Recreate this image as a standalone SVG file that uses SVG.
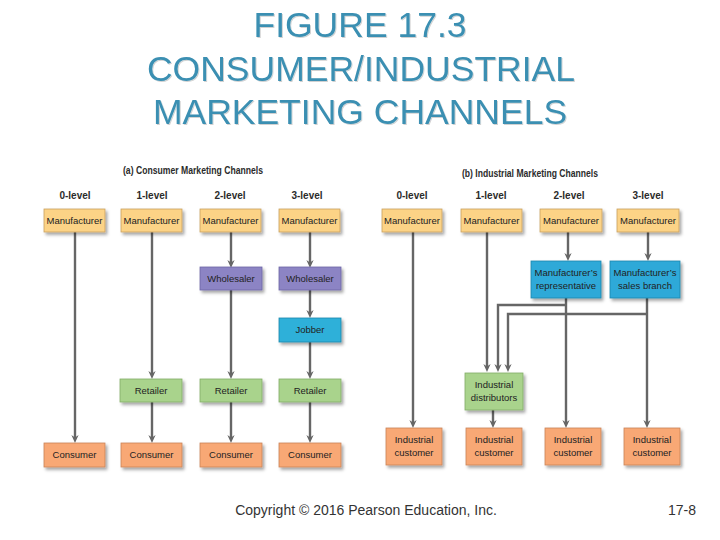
<svg xmlns="http://www.w3.org/2000/svg" width="720" height="540" viewBox="0 0 720 540">
<defs>
<filter id="sh" x="-20%" y="-20%" width="150%" height="160%">
<feDropShadow dx="2" dy="2.5" stdDeviation="1.6" flood-color="#000" flood-opacity="0.35"/>
</filter>
<filter id="tsh" x="-5%" y="-10%" width="110%" height="130%">
<feDropShadow dx="1" dy="1" stdDeviation="0.4" flood-color="#000" flood-opacity="0.18"/>
</filter>
<marker id="ah" viewBox="0 0 10 10" refX="5" refY="5" markerWidth="9" markerHeight="8" markerUnits="userSpaceOnUse" orient="auto">
<path d="M0,0.5 L10,5 L0,9.5 L3,5 z" fill="#666"/>
</marker>
</defs>
<style>
.b{stroke-width:0.8;filter:url(#sh)}
.mf{fill:#fcd386;stroke:#c9a060}
.ws{fill:#8c84c4;stroke:#6d65a5}
.jb{fill:#2fb0d9;stroke:#1e88ad}
.rt{fill:#a9d38c;stroke:#82ad66}
.cs{fill:#f8a874;stroke:#c98358}
.bl{fill:#2fa9d8;stroke:#1e85ad}
.t{font-family:"Liberation Sans",Arial,sans-serif;font-size:9.5px;fill:#222;text-anchor:middle}
.h{font-family:"Liberation Sans",Arial,sans-serif;font-size:10px;font-weight:bold;fill:#2b2b2b;text-anchor:middle}
.ttl{font-family:"Liberation Sans",Arial,sans-serif;font-size:35.5px;fill:#3a8fb2;text-anchor:middle;filter:url(#tsh)}
.ft{font-family:"Liberation Sans",Arial,sans-serif;font-size:14px;fill:#333}
#connectors path,#connectors line{stroke:#666;stroke-width:2.4;fill:none}
</style>
<rect width="720" height="540" fill="#fff"/>
<g id="title">
<text class="ttl" x="360" y="37">FIGURE 17.3</text>
<text class="ttl" x="361" y="81">CONSUMER/INDUSTRIAL</text>
<text class="ttl" x="360" y="124">MARKETING CHANNELS</text>
</g>
<g id="headings">
<text class="h" x="193" y="174" textLength="140" lengthAdjust="spacingAndGlyphs">(a) Consumer Marketing Channels</text>
<text class="h" x="530" y="177" textLength="136" lengthAdjust="spacingAndGlyphs">(b) Industrial Marketing Channels</text>
<text class="h" x="75" y="199">0-level</text>
<text class="h" x="152" y="199">1-level</text>
<text class="h" x="230" y="199">2-level</text>
<text class="h" x="307" y="199">3-level</text>
<text class="h" x="412" y="199">0-level</text>
<text class="h" x="491" y="199">1-level</text>
<text class="h" x="569" y="199">2-level</text>
<text class="h" x="648" y="199">3-level</text>
</g>
<g id="connectors">
<line x1="75" y1="232" x2="75" y2="439" marker-end="url(#ah)"/>
<line x1="152" y1="232" x2="152" y2="375" marker-end="url(#ah)"/>
<line x1="152" y1="402" x2="152" y2="439" marker-end="url(#ah)"/>
<line x1="231" y1="232" x2="231" y2="264" marker-end="url(#ah)"/>
<line x1="231" y1="290" x2="231" y2="375" marker-end="url(#ah)"/>
<line x1="231" y1="402" x2="231" y2="439" marker-end="url(#ah)"/>
<line x1="310" y1="232" x2="310" y2="264" marker-end="url(#ah)"/>
<line x1="310" y1="290" x2="310" y2="314" marker-end="url(#ah)"/>
<line x1="310" y1="342" x2="310" y2="375" marker-end="url(#ah)"/>
<line x1="310" y1="402" x2="310" y2="439" marker-end="url(#ah)"/>
<line x1="413" y1="232" x2="413" y2="424" marker-end="url(#ah)"/>
<line x1="487" y1="232" x2="487" y2="368" marker-end="url(#ah)"/>
<line x1="568" y1="232" x2="568" y2="257" marker-end="url(#ah)"/>
<line x1="648" y1="232" x2="648" y2="257" marker-end="url(#ah)"/>
<line x1="566" y1="298" x2="566" y2="424" marker-end="url(#ah)"/>
<line x1="647" y1="298" x2="647" y2="424" marker-end="url(#ah)"/>
<path d="M566,305 H498 V368" marker-end="url(#ah)"/>
<path d="M647,314 H508 V368" marker-end="url(#ah)"/>
<line x1="493" y1="410" x2="493" y2="424" marker-end="url(#ah)"/>
</g>
<g id="c-manufacturer-0"><rect class="b mf" x="44" y="209" width="61" height="23"/><text class="t" x="74.5" y="224">Manufacturer</text></g>
<g id="c-manufacturer-1"><rect class="b mf" x="121" y="209" width="61" height="23"/><text class="t" x="151.5" y="224">Manufacturer</text></g>
<g id="c-manufacturer-2"><rect class="b mf" x="200" y="209" width="61" height="23"/><text class="t" x="230.5" y="224">Manufacturer</text></g>
<g id="c-manufacturer-3"><rect class="b mf" x="279" y="209" width="61" height="23"/><text class="t" x="309.5" y="224">Manufacturer</text></g>
<g id="c-wholesaler-2"><rect class="b ws" x="200" y="267" width="62" height="23"/><text class="t" x="231" y="282">Wholesaler</text></g>
<g id="c-wholesaler-3"><rect class="b ws" x="279" y="267" width="62" height="23"/><text class="t" x="310" y="282">Wholesaler</text></g>
<g id="c-jobber-3"><rect class="b jb" x="279" y="318" width="62" height="24"/><text class="t" x="310" y="333">Jobber</text></g>
<g id="c-retailer-1"><rect class="b rt" x="120" y="379" width="62" height="23"/><text class="t" x="151" y="394">Retailer</text></g>
<g id="c-retailer-2"><rect class="b rt" x="200" y="379" width="62" height="23"/><text class="t" x="231" y="394">Retailer</text></g>
<g id="c-retailer-3"><rect class="b rt" x="279" y="379" width="62" height="23"/><text class="t" x="310" y="394">Retailer</text></g>
<g id="c-consumer-0"><rect class="b cs" x="44" y="443" width="61" height="24"/><text class="t" x="74.5" y="458">Consumer</text></g>
<g id="c-consumer-1"><rect class="b cs" x="121" y="443" width="61" height="24"/><text class="t" x="151.5" y="458">Consumer</text></g>
<g id="c-consumer-2"><rect class="b cs" x="200" y="443" width="62" height="24"/><text class="t" x="231" y="458">Consumer</text></g>
<g id="c-consumer-3"><rect class="b cs" x="279" y="443" width="62" height="24"/><text class="t" x="310" y="458">Consumer</text></g>
<g id="i-manufacturer-0"><rect class="b mf" x="382" y="209" width="60" height="23"/><text class="t" x="412" y="224">Manufacturer</text></g>
<g id="i-manufacturer-1"><rect class="b mf" x="461" y="209" width="61" height="23"/><text class="t" x="491.5" y="224">Manufacturer</text></g>
<g id="i-manufacturer-2"><rect class="b mf" x="540" y="209" width="62" height="23"/><text class="t" x="571" y="224">Manufacturer</text></g>
<g id="i-manufacturer-3"><rect class="b mf" x="617" y="209" width="62" height="23"/><text class="t" x="648" y="224">Manufacturer</text></g>
<g id="i-representative"><rect class="b bl" x="531" y="261" width="70" height="37"/><text class="t" x="566" y="276">Manufacturer’s</text><text class="t" x="566" y="289">representative</text></g>
<g id="i-sales-branch"><rect class="b bl" x="610" y="261" width="70" height="37"/><text class="t" x="645" y="276">Manufacturer’s</text><text class="t" x="645" y="289">sales branch</text></g>
<g id="i-distributors"><rect class="b rt" x="465" y="373" width="58" height="37"/><text class="t" x="494" y="388">Industrial</text><text class="t" x="494" y="401">distributors</text></g>
<g id="i-customer-0"><rect class="b cs" x="386" y="428" width="56" height="37"/><text class="t" x="414" y="443">Industrial</text><text class="t" x="414" y="456">customer</text></g>
<g id="i-customer-1"><rect class="b cs" x="466" y="428" width="56" height="37"/><text class="t" x="494" y="443">Industrial</text><text class="t" x="494" y="456">customer</text></g>
<g id="i-customer-2"><rect class="b cs" x="545" y="428" width="56" height="37"/><text class="t" x="573" y="443">Industrial</text><text class="t" x="573" y="456">customer</text></g>
<g id="i-customer-3"><rect class="b cs" x="624" y="428" width="56" height="37"/><text class="t" x="652" y="443">Industrial</text><text class="t" x="652" y="456">customer</text></g>
<g id="footer">
<text class="ft" x="366" y="515" text-anchor="middle">Copyright © 2016 Pearson Education, Inc.</text>
<text class="ft" x="696" y="515" text-anchor="end">17-8</text>
</g>
</svg>
